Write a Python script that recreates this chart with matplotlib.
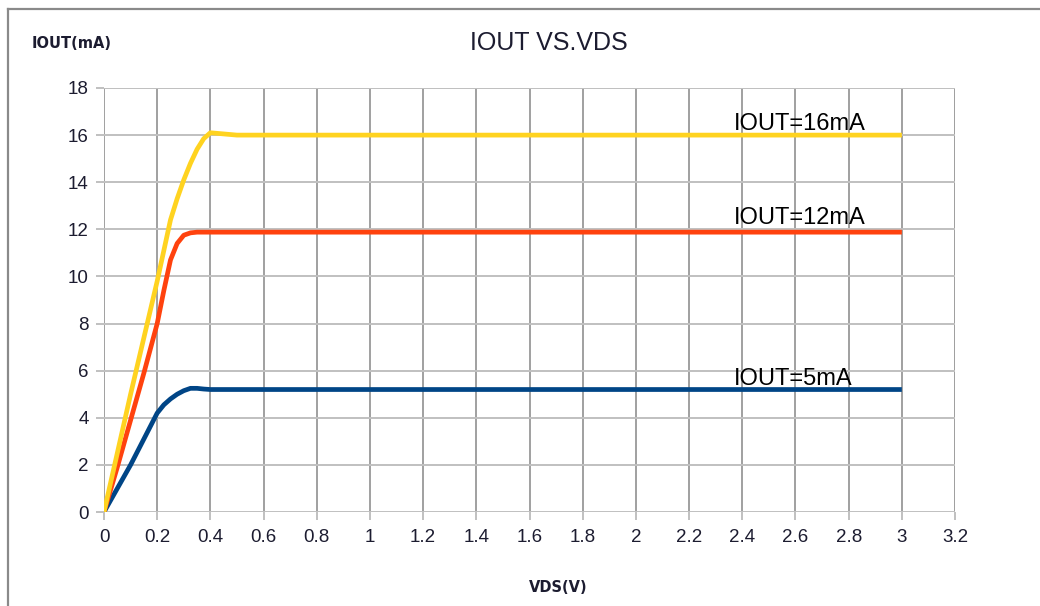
"""IOUT vs VDS curves for three output current settings."""

import matplotlib.pyplot as plt
from matplotlib.lines import Line2D

plt.rcParams['font.family'] = ['Liberation Sans', 'DejaVu Sans']

vds = [0, 0.05, 0.1, 0.15, 0.2, 0.225, 0.25, 0.275, 0.3, 0.325, 0.35, 0.375, 0.4,
       0.45, 0.5, 0.7, 0.9, 1.1, 1.3, 1.5, 1.7, 1.9, 2.1, 2.3, 2.5, 2.7, 2.9, 3.0]
iout_5ma = [0, 1.0, 2.0, 3.1, 4.2, 4.55, 4.8, 5.0, 5.15, 5.25, 5.25, 5.22, 5.2,
            5.2, 5.2, 5.2, 5.2, 5.2, 5.2, 5.2, 5.2, 5.2, 5.2, 5.2, 5.2, 5.2, 5.2, 5.2]
iout_12ma = [0, 1.9, 3.9, 5.9, 8.0, 9.4, 10.7, 11.4, 11.75, 11.85, 11.88, 11.88,
             11.88, 11.88, 11.88, 11.88, 11.88, 11.88, 11.88, 11.88, 11.88, 11.88,
             11.88, 11.88, 11.88, 11.88, 11.88, 11.88]
iout_16ma = [0, 2.5, 5.0, 7.4, 9.8, 11.1, 12.4, 13.3, 14.1, 14.8, 15.4, 15.85, 16.1,
             16.05, 16.0, 16.0, 16.0, 16.0, 16.0, 16.0, 16.0, 16.0, 16.0, 16.0, 16.0,
             16.0, 16.0, 16.0]

series = [
    (iout_5ma, '#004586', 'IOUT=5mA', 5.4),
    (iout_12ma, '#FF420E', 'IOUT=12mA', 12.22),
    (iout_16ma, '#FFD320', 'IOUT=16mA', 16.2),
]
label_x = 2.37

xticks = [round(0.2 * i, 1) for i in range(17)]
xtick_labels = ['0'] + [f'{v:g}' for v in xticks[1:]]
yticks = list(range(0, 19, 2))

fig = plt.figure(figsize=(10.4, 6.06), dpi=100)
ax = fig.add_axes([0.1, 0.1551, 0.8183, 0.6997])

for vals, color, label, ty in series:
    ax.plot(vds, vals, color=color, linewidth=3.4, solid_capstyle='butt',
            solid_joinstyle='round', zorder=3)
    ax.text(label_x, ty, label, fontsize=17, color='black', va='baseline', zorder=4)

ax.set_xlim(0, 3.2)
ax.set_ylim(0, 18)
ax.set_xticks(xticks)
ax.set_xticklabels(xtick_labels)
ax.set_yticks(yticks)
for s in ax.spines.values():
    s.set_visible(False)
ax.xaxis.grid(True, color='#a0a0a0', linewidth=1.4)
ax.yaxis.grid(True, color='#c0c0c0', linewidth=1.4)
ax.tick_params(axis='x', length=6, width=1.4, color='#c0c0c0', pad=6,
               labelsize=13.5, labelcolor='#1c1c30')
ax.tick_params(axis='y', length=6, width=1.4, color='#c0c0c0', pad=5,
               labelsize=13.5, labelcolor='#1c1c30')
# closing gridlines at the plot edges
ax.axvline(3.2, color='#c0c0c0', linewidth=1.4, zorder=1)
ax.axhline(18, color='#c0c0c0', linewidth=1.4, zorder=1)

fig.text(549 / 1040, 1 - 43 / 606, 'IOUT VS.VDS', fontsize=18, ha='center',
         va='center', color='#1c1c30')
fig.text(32 / 1040, 1 - 44 / 606, 'IOUT(mA)', fontsize=10.5, fontweight='bold',
         family='DejaVu Sans', ha='left', va='center', color='#1c1c30')
fig.text(558 / 1040, 1 - 588 / 606, 'VDS(V)', fontsize=10.5, fontweight='bold',
         family='DejaVu Sans', ha='center', va='center', color='#1c1c30')

# outer frame (top and left edges visible)
fig.add_artist(Line2D([8 / 1040, 1], [1 - 9 / 606, 1 - 9 / 606],
                      transform=fig.transFigure, color='#8a8a8a', linewidth=1.6))
fig.add_artist(Line2D([8 / 1040, 8 / 1040], [0, 1 - 9 / 606],
                      transform=fig.transFigure, color='#8a8a8a', linewidth=1.6))

fig.savefig('out.png', dpi=100)
